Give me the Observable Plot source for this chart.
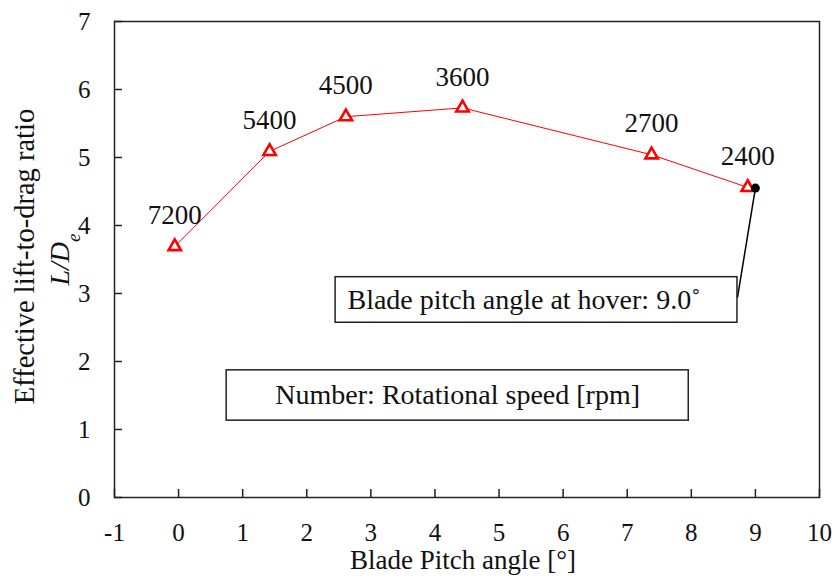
<!DOCTYPE html>
<html><head><meta charset="utf-8">
<script src="https://cdn.jsdelivr.net/npm/d3@7"></script>
<script src="https://cdn.jsdelivr.net/npm/@observablehq/plot@0.6"></script>
<style>body{margin:0;background:#fff}</style>
</head><body><div id="chart"></div>
<script>
// Data
const pitch = [-0.06, 1.42, 2.61, 4.43, 7.38, 8.88];
const ratio = [3.69, 5.09, 5.60, 5.73, 5.04, 4.56];
const rpm = ["7200", "5400", "4500", "3600", "2700", "2400"];
const hoverPitch = [9.0];
const hoverRatio = [4.55];
const xTicks = [-1, 0, 1, 2, 3, 4, 5, 6, 7, 8, 9, 10];
const yTicks = [0, 1, 2, 3, 4, 5, 6, 7];
// annotation boxes (data units)
const noteText = ["Blade pitch angle at hover: 9.0˚", "Number: Rotational speed [rpm]"];
const noteX1 = [2.45, 0.75];
const noteX2 = [8.72, 7.96];
const noteY1 = [2.57, 1.13];
const noteY2 = [3.24, 1.87];
const noteTextX = [2.635, 4.355];
const noteAnchor = ["start", "middle"];
const leaderFrom = [9.0, 4.55];
const leaderTo = [8.72, 2.94];

const pts = pitch.map((x, i) => ({x, y: ratio[i], label: rpm[i]}));
const hover = hoverPitch.map((x, i) => ({x, y: hoverRatio[i]}));
const notes = noteText.map((t, i) => ({t, x1: noteX1[i], x2: noteX2[i], y1: noteY1[i], y2: noteY2[i], tx: noteTextX[i], ty: (noteY1[i] + noteY2[i]) / 2, anchor: noteAnchor[i]}));
const leader = [{x1: leaderFrom[0], y1: leaderFrom[1], x2: leaderTo[0], y2: leaderTo[1]}];

const font = "'Liberation Serif', 'Times New Roman', Times, serif";

const chart = Plot.plot({
  width: 837, height: 586,
  marginLeft: 114, marginRight: 18, marginTop: 21, marginBottom: 89,
  style: {fontFamily: font, fontSize: "24px", color: "#000", background: "#fff", overflow: "visible"},
  x: {domain: [-1, 10]},
  y: {domain: [0, 7]},
  marks: [
    Plot.axisX({ticks: xTicks, tickSize: -8, tickPadding: 34, tickFormat: d => String(d), label: null, fontSize: 25, strokeWidth: 1.5, stroke: "#222", fill: "#111"}),
    Plot.axisY({ticks: yTicks, tickSize: -8, tickPadding: 32, tickFormat: d => String(d), label: null, fontSize: 25, strokeWidth: 1.5, stroke: "#222", fill: "#111"}),
    Plot.line(pts, {x: "x", y: "y", stroke: "#ff0000", strokeWidth: 1}),
    Plot.link(leader, {x1: "x1", y1: "y1", x2: "x2", y2: "y2", stroke: "#000", strokeWidth: 1.5}),
    Plot.rect(notes, {x1: "x1", x2: "x2", y1: "y1", y2: "y2", fill: "#fff", stroke: "#222", strokeWidth: 1.5}),
    Plot.text(notes.filter(d => d.anchor === "start"), {x: "tx", y: "ty", text: "t", textAnchor: "start", fontSize: 28, fill: "#111"}),
    Plot.text(notes.filter(d => d.anchor === "middle"), {x: "tx", y: "ty", text: "t", textAnchor: "middle", fontSize: 28, fill: "#111"}),
    Plot.dot(pts, {x: "x", y: "y", symbol: "triangle", r: 4.6, stroke: "#ff0000", strokeWidth: 2.6, fill: "#fff"}),
    Plot.dot(hover, {x: "x", y: "y", r: 4.5, fill: "#000"}),
    Plot.text(pts, {x: "x", y: "y", text: "label", dy: -31, fontSize: 27, fill: "#111"}),
    Plot.frame({stroke: "#222", strokeWidth: 1.5}),
    Plot.text(["Blade Pitch angle [°]"], {frameAnchor: "bottom", dy: 71, dx: -4, fontSize: 27, fill: "#111"}),
    Plot.text(["Effective lift-to-drag ratio"], {frameAnchor: "left", textAnchor: "middle", dx: -90, dy: -3, rotate: -90, fontSize: 28.5, fill: "#111"}),
    Plot.text(["L/De"], {frameAnchor: "left", textAnchor: "middle", dx: -54, dy: 0, rotate: -90, fontSize: 28, fill: "#111"})
  ]
});

// italic L/D with subscript e
d3.select(chart).selectAll("text").filter(function() { return this.textContent === "L/De"; }).each(function() {
  const t = d3.select(this);
  t.text("");
  t.append("tspan").attr("font-style", "italic").text("L/D");
  t.append("tspan").attr("font-style", "italic").attr("font-size", "19px").attr("baseline-shift", "sub").text("e");
});

document.getElementById("chart").appendChild(chart);
</script>
</body></html>
